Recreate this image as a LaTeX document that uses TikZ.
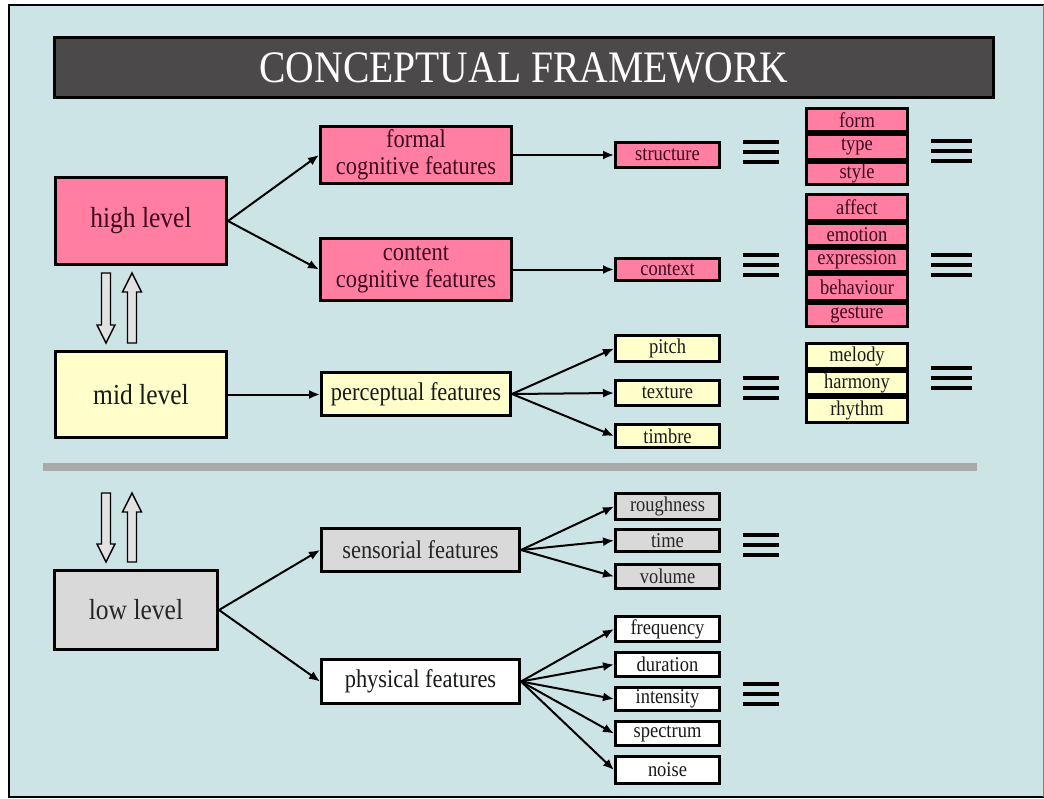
\documentclass[tikz,border=0pt]{standalone}
\usepackage{fontspec}
\setmainfont{Liberation Serif}[FakeStretch=0.88]
\usetikzlibrary{arrows.meta}
\definecolor{bg}{RGB}{205,228,230}
\definecolor{pinkf}{RGB}{255,126,162}
\definecolor{yelf}{RGB}{255,255,204}
\definecolor{grayf}{RGB}{217,217,217}
\definecolor{titlef}{RGB}{75,73,73}
\definecolor{sepc}{RGB}{170,170,170}
\definecolor{blockf}{RGB}{226,226,226}
\definecolor{pinktext}{RGB}{60,10,30}
\newcommand\mybox[7]{\node[#6, minimum width={#4pt-#2pt-2.8pt}, minimum height={#5pt-#3pt-2.8pt}] (#1) at ({(#2+#4)/2},{(#3+#5)/2}) {#7};}
\newcommand\myequiv[3]{\draw[eqline] (#1,#3-10) -- (#2,#3-10) (#1,#3) -- (#2,#3) (#1,#3+10) -- (#2,#3+10);}
\begin{document}
\begin{tikzpicture}[x=1pt,y=-1pt,
  box/.style={draw=black,line width=2.8pt,inner sep=0pt,align=center,text=black!90},
  lvl/.style={box,font=\fontsize{29}{33}\selectfont},
  feat/.style={box,font=\fontsize{25.5}{27}\selectfont},
  small/.style={box,font=\fontsize{21}{23}\selectfont},
  pk/.style={fill=pinkf,text=pinktext},
  yl/.style={fill=yelf},
  gr/.style={fill=grayf,text=black!85},
  wh/.style={fill=white},
  conn/.style={line width=2pt,-{Latex[length=11pt,width=9pt]}},
  eqline/.style={line width=3.2pt},
  blockarrow/.style={draw=black,line width=1.4pt,fill=blockf,line join=miter}
]
\useasboundingbox (0,0) rectangle (1044,798);
\fill[white] (0,0) rectangle (1044,798);
\fill[bg] (9,5) rectangle (1044,797);
\draw[line width=2.6pt] (1044,5) -- (9,5) -- (9,797) -- (1044,797);
\draw[line width=1pt,gray] (1043.5,5) -- (1043.5,797);

% title
\mybox{title}{53}{36}{995}{99}{box,fill=titlef,text=white,font=\fontsize{45}{48}\selectfont}{CONCEPTUAL FRAMEWORK}

% separator
\fill[sepc] (43,463) rectangle (977,471);

% level boxes
\mybox{high}{54}{176}{228}{266}{lvl,pk}{high level}
\mybox{mid}{54}{350}{228}{439}{lvl,yl}{mid level}
\mybox{low}{53}{569}{219}{651}{lvl,gr}{low level}

% feature boxes
\mybox{formal}{319}{125}{513}{185}{feat,pk}{formal\\cognitive features}
\mybox{content}{319}{237}{513}{302}{feat,pk}{content\\cognitive features}
\mybox{percep}{320}{371}{512}{417}{feat,yl}{perceptual features}
\mybox{senso}{320}{527}{521}{573}{feat,gr}{sensorial features}
\mybox{phys}{320}{658}{521}{705}{feat,wh}{physical features}

% small boxes
\mybox{structure}{614}{141}{721}{169}{small,pk}{structure}
\mybox{context}{614}{257}{721}{282}{small,pk}{context}
\mybox{pitch}{614}{334}{721}{363}{small,yl}{pitch}
\mybox{texture}{614}{379}{721}{407}{small,yl}{texture}
\mybox{timbre}{614}{423}{721}{449}{small,yl}{timbre}
\mybox{rough}{614}{492}{721}{521}{small,gr}{roughness}
\mybox{time}{614}{528}{721}{553}{small,gr}{time}
\mybox{volume}{614}{563}{721}{590}{small,gr}{volume}
\mybox{freq}{614}{615}{721}{643}{small,wh}{frequency}
\mybox{dur}{614}{651}{721}{678}{small,wh}{duration}
\mybox{inten}{614}{686}{721}{712}{small,wh}{intensity}
\mybox{spec}{614}{720}{721}{747}{small,wh}{spectrum}
\mybox{noise}{614}{755}{721}{785}{small,wh}{noise}

% stacks
\mybox{form}{805}{107}{909}{133}{small,pk}{form}
\mybox{type}{805}{133}{909}{161}{small,pk}{type}
\mybox{style}{805}{161}{909}{186}{small,pk}{style}
\mybox{affect}{805}{193}{909}{222}{small,pk}{affect}
\mybox{emotion}{805}{222}{909}{247}{small,pk}{emotion}
\mybox{expression}{805}{247}{909}{273}{small,pk}{expression}
\mybox{behaviour}{805}{273}{909}{302}{small,pk}{behaviour}
\mybox{gesture}{805}{302}{909}{328}{small,pk}{gesture}
\mybox{melody}{805}{342}{909}{370}{small,yl}{melody}
\mybox{harmony}{805}{370}{909}{396}{small,yl}{harmony}
\mybox{rhythm}{805}{396}{909}{424}{small,yl}{rhythm}

% equivalence signs
\myequiv{743}{779}{152}
\myequiv{743}{779}{265}
\myequiv{743}{779}{388}
\myequiv{743}{779}{545}
\myequiv{743}{779}{694}
\myequiv{931}{972}{151}
\myequiv{931}{972}{265}
\myequiv{931}{972}{378}

% connectors
\draw[conn] (high.east) -- (formal.west);
\draw[conn] (high.east) -- (content.west);
\draw[conn] (formal.east) -- (structure.west);
\draw[conn] (content.east) -- (context.west);
\draw[conn] (mid.east) -- (mid.east -| percep.west);
\foreach \t in {pitch,texture,timbre} \draw[conn] (percep.east) -- (\t.west);
\draw[conn] (low.east) -- (senso.west);
\draw[conn] (low.east) -- (phys.west);
\foreach \t in {rough,time,volume} \draw[conn] (senso.east) -- (\t.west);
\foreach \t in {freq,dur,inten,spec,noise} \draw[conn] (phys.east) -- (\t.west);

% block arrows (upper)
\draw[blockarrow] (101.5,273) -- (110.5,273) -- (110.5,325) -- (115,325) -- (106,343) -- (97,325) -- (101.5,325) -- cycle;
\draw[blockarrow] (127.5,343) -- (136.5,343) -- (136.5,292) -- (141.5,292) -- (132,273) -- (122.5,292) -- (127.5,292) -- cycle;
% block arrows (lower)
\draw[blockarrow] (101.5,493) -- (110.5,493) -- (110.5,544) -- (115,544) -- (106,562) -- (97,544) -- (101.5,544) -- cycle;
\draw[blockarrow] (127.5,562) -- (136.5,562) -- (136.5,512) -- (141.5,512) -- (132,493) -- (122.5,512) -- (127.5,512) -- cycle;
\end{tikzpicture}
\end{document}
